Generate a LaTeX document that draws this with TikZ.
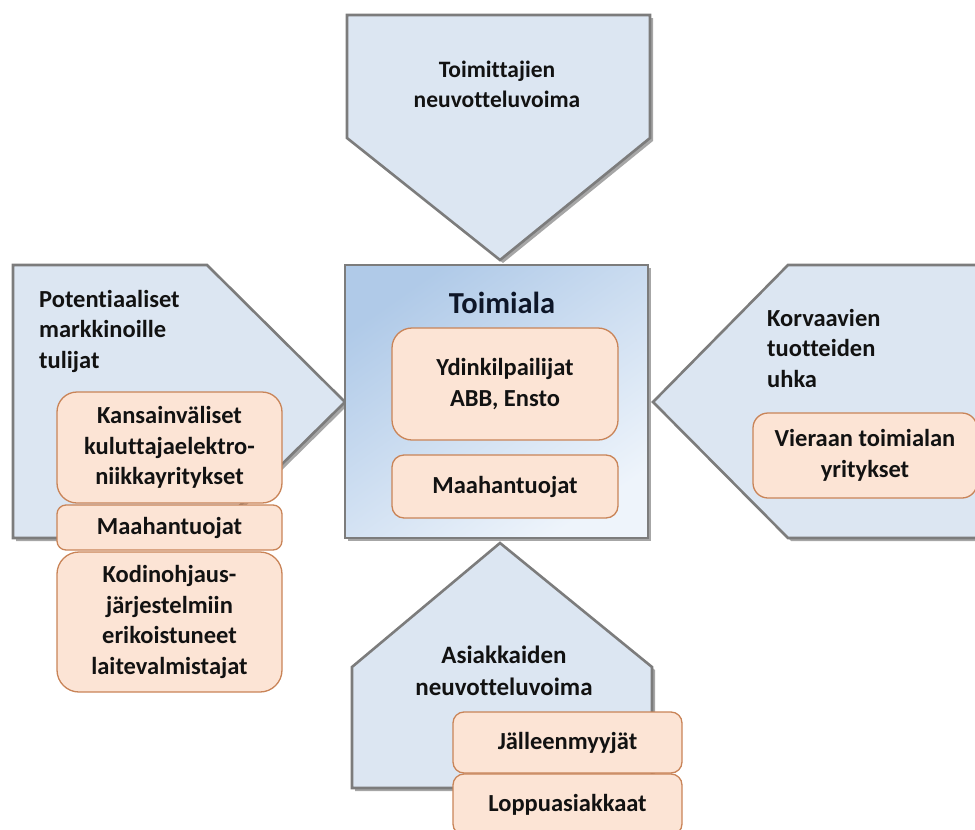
\documentclass[tikz,border=0pt]{standalone}
\usepackage{fontspec}
\setmainfont{Carlito}[Ligatures=NoCommon]
\usetikzlibrary{shadows}
\definecolor{blueF}{RGB}{220,230,242}
\definecolor{edgeG}{RGB}{124,124,124}
\definecolor{peachF}{RGB}{252,228,213}
\definecolor{peachD}{RGB}{201,132,88}
\definecolor{cbA}{RGB}{176,202,232}
\definecolor{cbB}{RGB}{238,244,251}
\definecolor{ink}{RGB}{18,18,18}
\definecolor{navyink}{RGB}{14,22,40}
\newcommand\lblfont{\bfseries\fontsize{24.5}{30.5}\selectfont}
\newcommand\ttlfont{\bfseries\fontsize{24.5}{30.5}\selectfont}
\newcommand\topfont{\bfseries\fontsize{23.5}{30}\selectfont}
\newcommand\botfont{\bfseries\fontsize{25}{32}\selectfont}
\newcommand\bigfont{\bfseries\fontsize{30.5}{36}\selectfont}
\tikzset{
  force/.style={fill=blueF, draw=edgeG, line width=2.6pt, line join=miter,
    drop shadow={shadow xshift=3pt, shadow yshift=-3pt, opacity=0.35, fill=black}},
  peach/.style={fill=peachF, draw=peachD, line width=1.3pt, align=center,
    inner sep=0pt, font=\lblfont, text=ink},
  title/.style={text=ink, inner sep=0pt},
}
\begin{document}
\begin{tikzpicture}[x=1pt, y=-1pt]
\useasboundingbox (0,0) rectangle (975,830);

% the four forces around the industry
\draw[force] (347,15) -- (650,15) -- (650,138) -- (500,260) -- (347,138) -- cycle;
\draw[force] (13,265) -- (207,265) -- (345,402) -- (207,538) -- (13,538) -- cycle;
\draw[force] (653,402) -- (788,265) -- (995,265) -- (995,538) -- (788,538) -- cycle;
\draw[force] (500,543) -- (652,667) -- (652,788) -- (352,788) -- (352,667) -- cycle;

% the industry itself
\node[draw=edgeG, line width=2.6pt, top color=cbA, bottom color=cbB, shading angle=35,
  drop shadow={shadow xshift=3pt, shadow yshift=-3pt, opacity=0.35, fill=black},
  minimum width=303pt, minimum height=273pt, inner sep=0pt] (ind) at (496.5,401.5) {};

% titles (base anchor sits on the last line)
\node[title, font=\topfont, align=center, anchor=base] (tsup) at (497,107)
  {Toimittajien\\neuvotteluvoima};
\node[title, font=\ttlfont, align=left, anchor=base west] (tent) at (39,368)
  {Potentiaaliset\\markkinoille\\tulijat};
\node[title, font=\ttlfont, align=left, anchor=base west] (tsub) at (767,387)
  {Korvaavien\\tuotteiden\\uhka};
\node[title, font=\botfont, align=center, anchor=base] (tbuy) at (504,695)
  {Asiakkaiden\\neuvotteluvoima};
\node[title, font=\bigfont, text=navyink, anchor=base] (tind) at (502,313) {Toimiala};

% actors inside the industry
\node[peach, rounded corners=20pt, minimum width=226pt, minimum height=112pt] (core) at (505,384)
  {Ydinkilpailijat\\ABB, Ensto};
\node[peach, rounded corners=12pt, minimum width=226pt, minimum height=63pt] (imp) at (505,486.5)
  {Maahantuojat};

% potential entrants
\node[peach, rounded corners=20pt, minimum width=225pt, minimum height=111pt] (intl) at (169.5,447.5)
  {Kansainväliset\\kuluttajaelektro-\\niikkayritykset};
\node[peach, rounded corners=9pt, minimum width=225pt, minimum height=45pt] (eimp) at (169.5,527.5)
  {Maahantuojat};
\node[peach, rounded corners=22pt, minimum width=225pt, minimum height=140pt] (home) at (169.5,622)
  {Kodinohjaus-\\järjestelmiin\\erikoistuneet\\laitevalmistajat};

% substitutes
\node[peach, rounded corners=15pt, minimum width=224pt, minimum height=85pt] (other) at (865,455.5)
  {Vieraan toimialan\\yritykset};

% buyers
\node[peach, rounded corners=11pt, minimum width=229pt, minimum height=61pt] (resell) at (567.5,742.5)
  {Jälleenmyyjät};
\node[peach, rounded corners=11pt, minimum width=229pt, minimum height=61pt] (endc) at (567.5,804.5)
  {Loppuasiakkaat};
\end{tikzpicture}
\end{document}
